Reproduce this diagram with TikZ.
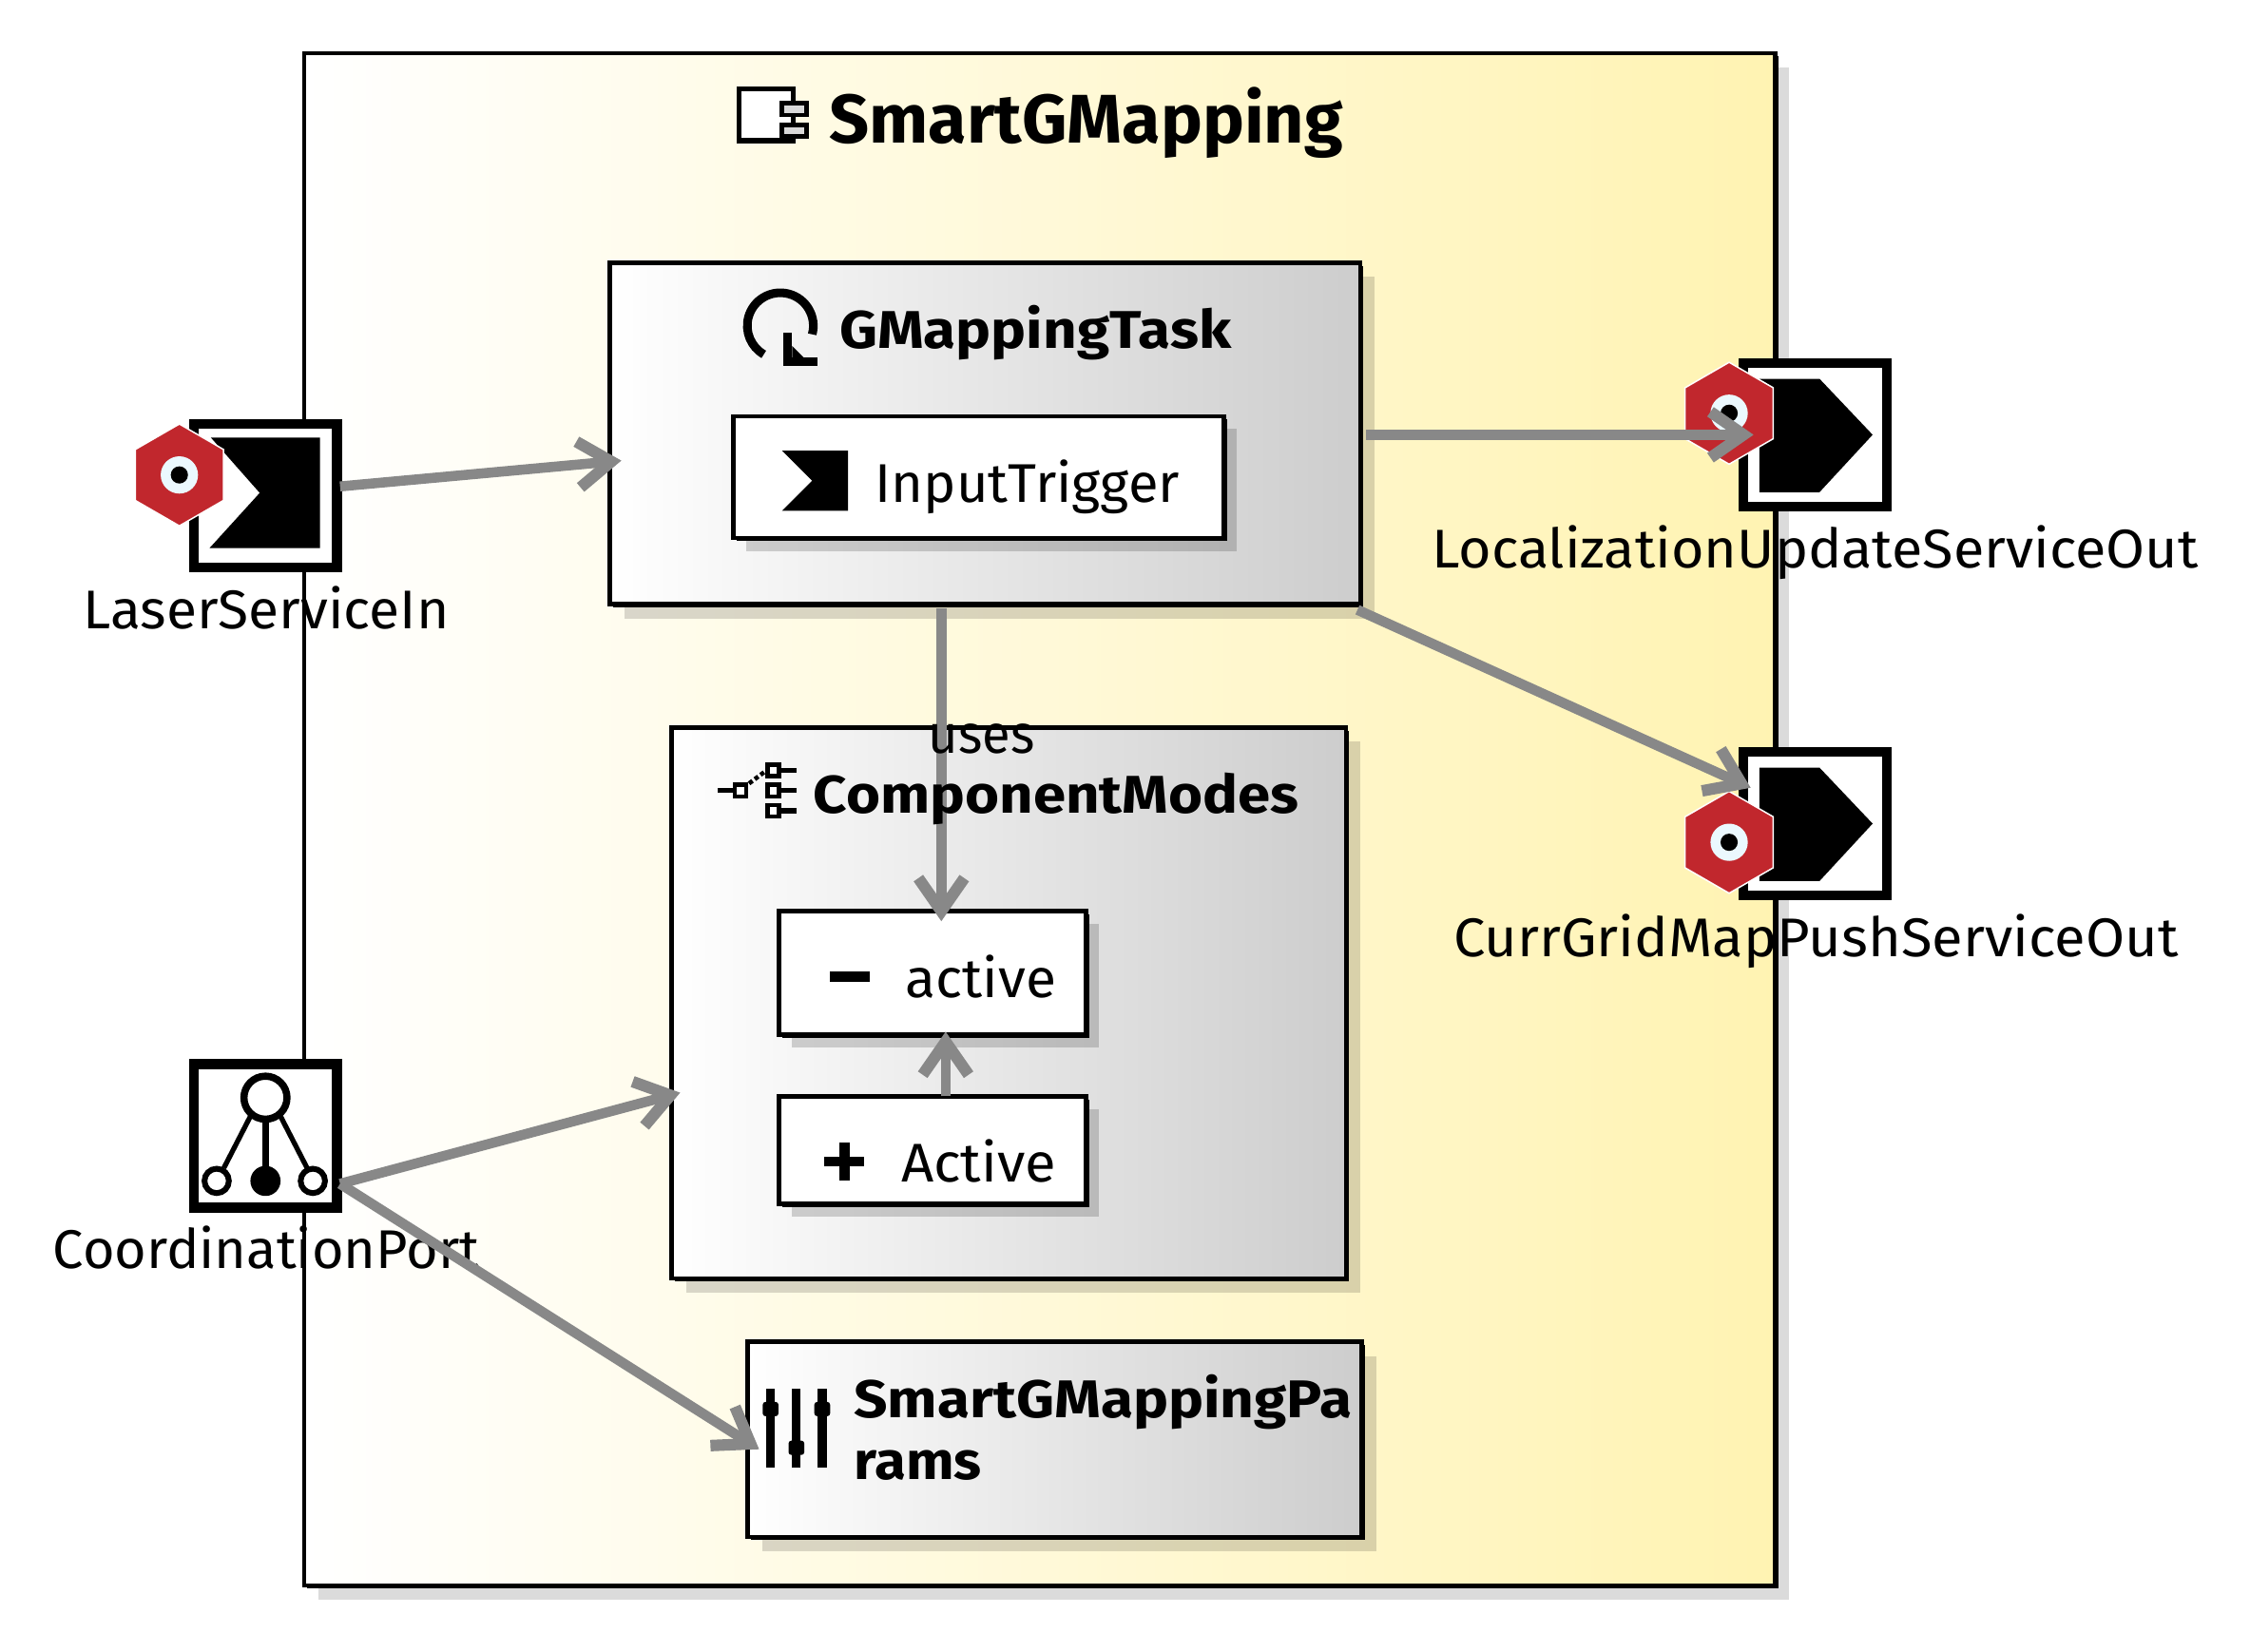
\documentclass[tikz,border=0pt]{standalone}
\usepackage{fontspec}
\setmainfont{Fira Sans}
\usetikzlibrary{arrows.meta,shadows,shapes.geometric}
\newcommand{\fitw}[2]{\resizebox{#1pt}{\height}{#2}}
\definecolor{connc}{HTML}{888888}
\definecolor{hexred}{HTML}{C1272D}
\definecolor{outerc}{HTML}{FFF3B2}
\definecolor{innerc}{HTML}{CDCDCD}
\tikzset{
  nodebase/.style={rectangle,outer sep=0pt,inner sep=0pt,draw=black},
  thickedge/.style={general shadow={shadow xshift=2.2pt,shadow yshift=-2.2pt,fill=black}},
  outerbox/.style={nodebase,line width=3pt,left color=white,right color=outerc,
    general shadow={shadow xshift=10pt,shadow yshift=-10pt,fill=black,opacity=.14},thickedge},
  innerbox/.style={nodebase,line width=3pt,left color=white,right color=innerc,
    general shadow={shadow xshift=10pt,shadow yshift=-10pt,fill=black,opacity=.15},thickedge},
  whitebox/.style={nodebase,line width=3pt,fill=white,
    general shadow={shadow xshift=9pt,shadow yshift=-9pt,fill=black,opacity=.17},thickedge},
  portbox/.style={nodebase,line width=7pt,fill=white,minimum width=100pt,minimum height=100pt},
  hexa/.style={regular polygon,regular polygon sides=6,regular polygon rotate=30,minimum size=71pt,inner sep=0pt,outer sep=0pt,fill=hexred,draw=white,line width=1pt},
  conn/.style={draw=connc,line width=7pt,-{Straight Barb[length=23pt,width=32pt,line width=8pt]}},
  txt/.style={anchor=base west,inner sep=0pt,outer sep=0pt,font=\fontsize{38}{42}\selectfont},
  btxt/.style={anchor=base west,inner sep=0pt,outer sep=0pt,font=\fontsize{37}{42}\selectfont\bfseries},
  icon/.style={draw=black,line width=5pt},
}
\begin{document}
\begin{tikzpicture}[x=1pt,y=-1pt]
\useasboundingbox (0,0) rectangle (1568,1151);
\fill[white] (0,0) rectangle (1568,1151);
% outer component
\node[outerbox,minimum width=1025pt,minimum height=1068pt] (outer) at (724.5,571) {};
% ports
\node[portbox] (portL) at (185,345.5) {};
\node[portbox] (portC) at (185,791.5) {};
\node[portbox] (portU) at (1265,303) {};
\node[portbox] (portG) at (1265,574) {};
\fill[black] (147,305) -- (223,305) -- (223,382) -- (146,382) -- (181,343.5) -- cycle;
\foreach \yy in {264,535}{
  \fill[black] (1226,\yy) -- (1268,\yy) -- (1305,\yy+39) -- (1268,\yy+79) -- (1226,\yy+79) -- cycle;
}
% coordination icon
\draw[icon] (185,765) circle (15);
\draw[icon,line width=3.5pt] (175,777) -- (156,814);
\draw[icon,line width=4.5pt] (185,780) -- (185,815);
\draw[icon,line width=3.5pt] (195,777) -- (214,814);
\draw[icon,line width=4pt] (151,823) circle (8.5);
\draw[icon,line width=4pt] (218,823) circle (8.5);
\fill[black] (185,823) circle (10.5);
% hexagons
\node[hexa] (hexL) at (125,331) {};
\node[hexa] (hexU) at (1205,288) {};
\node[hexa] (hexG) at (1205,587) {};
\foreach \h in {hexL,hexU,hexG}{
  \fill[white!92!cyan] (\h.center) circle (13);
  \fill[black] (\h.center) circle (6);
}
% port labels
\node[txt] (lblL) at (58,438.5) {\fitw{255}{LaserServiceIn}};
\node[txt] (lblC) at (37,884) {\fitw{297}{CoordinationPort}};
\node[txt] (lblU) at (998,396) {\fitw{534}{LocalizationUpdateServiceOut}};
\node[txt] (lblG) at (1013,667) {\fitw{505}{CurrGridMapPushServiceOut}};
% inner boxes
\node[innerbox,minimum width=523pt,minimum height=238pt] (task) at (686.5,302) {};
\node[whitebox,minimum width=342pt,minimum height=85pt] (input) at (682,332.5) {};
\node[innerbox,minimum width=470pt,minimum height=384pt] (modes) at (703,699) {};
\node[whitebox,minimum width=214pt,minimum height=86pt] (active) at (650,678) {};
\node[whitebox,minimum width=214pt,minimum height=75pt] (Active) at (650,801.5) {};
\node[innerbox,minimum width=428pt,minimum height=136pt] (params) at (735,1003) {};
% connectors
\draw[conn] ([shift={(2,-6.5)}]portL.east) -- ([shift={(8,19)}]task.west);
\draw[conn] ([shift={(4,1)}]task.east) -- ([shift={(7,0)}]portU.west);
\draw[conn] ([shift={(-2,4)}]task.south east) -- ([shift={(5,25)}]portG.north west);
\draw[conn] ([shift={(-30.5,3)}]task.south) -- ([shift={(6,7)}]active.north);
\draw[conn] ([shift={(9,0)}]Active.north) -- ([shift={(9,-2)}]active.south);
\draw[conn] ([shift={(2,33.5)}]portC.east) -- ([shift={(6,62.5)}]modes.west);
\draw[conn] ([shift={(2,33.5)}]portC.east) -- ([shift={(8,7)}]params.west);
% title icons
\draw[black,line width=3.5pt,fill=white] (515,62) rectangle (553,98);
\draw[black,line width=3pt,fill=white!85!black] (545,72) rectangle (562,80);
\draw[black,line width=3pt,fill=white!85!black] (545,87) rectangle (562,95);
\draw[icon,line width=6pt] (566,233) arc[start angle=15,end angle=-240,radius=23];
\fill[black] (546,232) rectangle (552,255);
\fill[black] (546,249) rectangle (570,255);
\fill[black] (552,250) -- (552,241) -- (561,250) -- cycle;
\fill[black] (545,314) -- (591,314) -- (591,356) -- (545,356) -- (566,335) -- cycle;
% modes icon
\draw[black,line width=3.5pt] (500,551) -- (512,551);
\draw[black,line width=3pt,fill=white] (512,547) rectangle (520,555);
\draw[black,line width=3pt,dotted] (522,546) -- (534,537);
\foreach \yy in {537,551,565}{
  \draw[black,line width=3pt,fill=white] (535,\yy-4) rectangle (543,\yy+4);
  \draw[black,line width=3.5pt] (543,\yy) -- (555,\yy);
}
% minus and plus
\fill[black] (578,677) rectangle (606,684);
\fill[black] (574,806) rectangle (602,813);
\fill[black] (585,796) rectangle (592,823);
% params icon
\foreach \xx/\kk in {537/982,555/1009,573/982}{
  \fill[black] (\xx-3,968) rectangle (\xx+3,1023);
  \fill[black,rounded corners=2pt] (\xx-5.5,\kk-5) rectangle (\xx+5.5,\kk+5);
}
% texts over connectors
\node[btxt,font=\fontsize{48}{52}\selectfont\bfseries] (tOuter) at (578,100) {\fitw{358}{SmartGMapping}};
\node[btxt] (tTask) at (585,243) {\fitw{273}{GMappingTask}};
\node[txt] (tInput) at (610,350) {\fitw{212}{InputTrigger}};
\node[txt] (tUses) at (647,525) {\fitw{74}{uses}};
\node[btxt] (tModes) at (567,567) {\fitw{338}{ComponentModes}};
\node[txt] (tactive) at (631,695) {\fitw{105}{active}};
\node[txt] (tActive) at (628,824) {\fitw{108}{Active}};
\node[btxt] (tP1) at (595,988) {\fitw{347}{SmartGMappingPa}};
\node[btxt] (tP2) at (595,1031) {\fitw{89}{rams}};
\end{tikzpicture}
\end{document}
